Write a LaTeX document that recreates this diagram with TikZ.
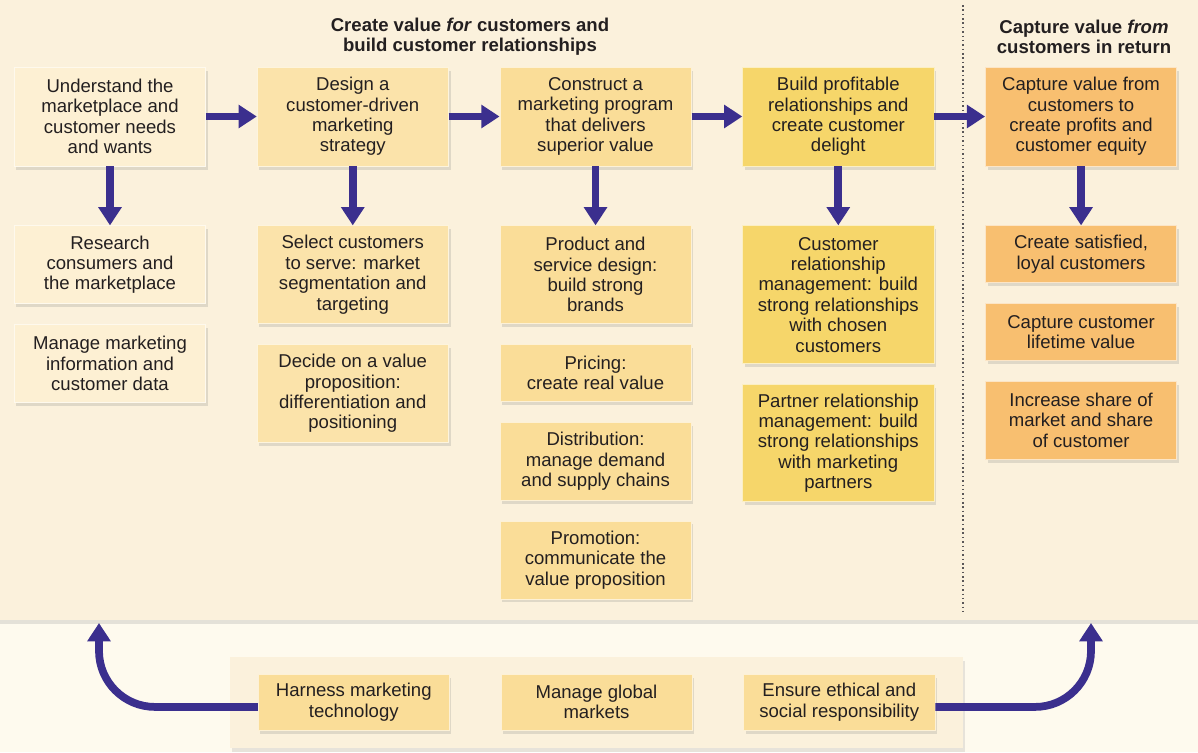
\documentclass[tikz,border=0pt]{standalone}
\usepackage{fontspec}
\setmainfont{Liberation Sans}
\usepackage{xcolor}
\usepackage{tikz}
\usetikzlibrary{positioning,arrows.meta,shadows}
\definecolor{pagebg}{HTML}{FEFAEE}
\definecolor{panelbg}{HTML}{FBF1DC}
\definecolor{inkc}{HTML}{231F20}
\definecolor{navy}{HTML}{3B2F8E}
\definecolor{palec}{HTML}{FDF0D3}
\definecolor{ylwc}{HTML}{FBE3AA}
\definecolor{gldc}{HTML}{FADD98}
\definecolor{sunc}{HTML}{F6D66A}
\definecolor{orgc}{HTML}{F8BF70}
\newcommand{\boxfont}{\fontsize{13.2}{14.5}\selectfont}
\tikzset{
  card/.style={rectangle,align=center,minimum width=4.78cm,inner sep=2pt,text=inkc,font=\boxfont,line width=0.5pt,
    drop shadow={shadow xshift=1.5pt,shadow yshift=-2.5pt,opacity=0.22}},
  pal/.style={card,fill=palec,draw=palec!40!white},
  ylw/.style={card,fill=ylwc,draw=ylwc!40!white},
  gld/.style={card,fill=gldc,draw=gldc!40!white},
  sun/.style={card,fill=sunc,draw=sunc!40!white},
  org/.style={card,fill=orgc,draw=orgc!40!white},
  ln2/.style={minimum height=1.425cm},
  ln3/.style={minimum height=1.95cm},
  ln4/.style={minimum height=2.45cm},
  ln5/.style={minimum height=2.925cm},
  ln6/.style={minimum height=3.45cm},
  ttl/.style={align=center,text=inkc,font=\boxfont\bfseries},
  arr/.style={-{Triangle[length=13pt,width=16pt]},line width=5.5pt,draw=navy},
}

\begin{document}
\begin{tikzpicture}[x=0.025cm,y=-0.025cm,node distance=0.5cm and 1.27cm]
  \useasboundingbox (0,0) rectangle (1198,752);
  \fill[pagebg] (0,0) rectangle (1198,752);
  \path[fill=panelbg,drop shadow={shadow xshift=0pt,shadow yshift=-3pt,opacity=0.2}] (0,0) rectangle (1198,620);
  \draw[dotted,line width=1.1pt,inkc!75] (963,5) -- (963,612);

  \node[ttl] (ttlA) at (470,37) {Create value \textit{for} customers and\\build customer relationships};
  \node[ttl] (ttlB) at (1084,37) {Capture value \textit{from}\\customers in return};

  % top row
  \node[pal,minimum height=2.475cm] (und) at (110,116.5) {Understand the\\marketplace and\\customer needs\\and wants};
  \node[ylw,minimum height=2.475cm,right=of und] (des) {Design a\\customer-driven\\marketing\\strategy};
  \node[gld,minimum height=2.475cm,right=of des] (con) {Construct a\\marketing program\\that delivers\\superior value};
  \node[sun,minimum height=2.475cm,right=of con] (bld) {Build profitable\\relationships and\\create customer\\delight};
  \node[org,minimum height=2.475cm,right=of bld] (cap) {Capture value from\\customers to\\create profits and\\customer equity};
  \draw[arr] (und) -- (des);
  \draw[arr] (des) -- (con);
  \draw[arr] (con) -- (bld);
  \draw[arr] (bld) -- (cap);

  % columns below
  \node[pal,ln3,below=1.475cm of und] (res) {Research\\consumers and\\the marketplace};
  \node[pal,ln3,below=of res] (mgi) {Manage marketing\\information and\\customer data};
  \node[ylw,ln4,below=1.475cm of des] (sel) {Select customers\\to serve: market\\segmentation and\\targeting};
  \node[ylw,ln4,below=of sel] (dec) {Decide on a value\\proposition:\\differentiation and\\positioning};
  \node[gld,ln4,below=1.475cm of con] (prd) {Product and\\service design:\\build strong\\brands};
  \node[gld,ln2,below=of prd] (prc) {Pricing:\\create real value};
  \node[gld,ln3,below=of prc] (dst) {Distribution:\\manage demand\\and supply chains};
  \node[gld,ln3,below=of dst] (pro) {Promotion:\\communicate the\\value proposition};
  \node[sun,ln6,below=1.475cm of bld] (crm) {Customer\\relationship\\management: build\\strong relationships\\with chosen\\customers};
  \node[sun,ln5,below=of crm] (prt) {Partner relationship\\management: build\\strong relationships\\with marketing\\partners};
  \node[org,ln2,below=1.475cm of cap] (sat) {Create satisfied,\\loyal customers};
  \node[org,ln2,below=of sat] (ltv) {Capture customer\\lifetime value};
  \node[org,ln3,below=of ltv] (shr) {Increase share of\\market and share\\of customer};
  \draw[arr] (und) -- (res);
  \draw[arr] (des) -- (sel);
  \draw[arr] (con) -- (prd);
  \draw[arr] (bld) -- (crm);
  \draw[arr] (cap) -- (sat);

  % bottom strip
  \path[fill=panelbg,drop shadow={shadow xshift=1.5pt,shadow yshift=-2.5pt,opacity=0.18}] (230,657) rectangle (963,748);
  \coordinate (lt) at (99,623);
  \coordinate (rt) at (1091,623);
  \node[gld,minimum height=1.4cm] (mgm) at (596.5,702) {Manage global\\markets};
  \node[gld,minimum height=1.4cm,left=of mgm] (hmt) {Harness marketing\\technology};
  \node[gld,minimum height=1.4cm,right=of mgm] (eth) {Ensure ethical and\\social responsibility};
  \draw[arr,rounded corners=1.4cm] ([yshift=-3.5pt]hmt.west) -| (lt);
  \draw[arr,rounded corners=1.4cm] ([yshift=-3.5pt]eth.east) -| (rt);
\end{tikzpicture}
\end{document}
